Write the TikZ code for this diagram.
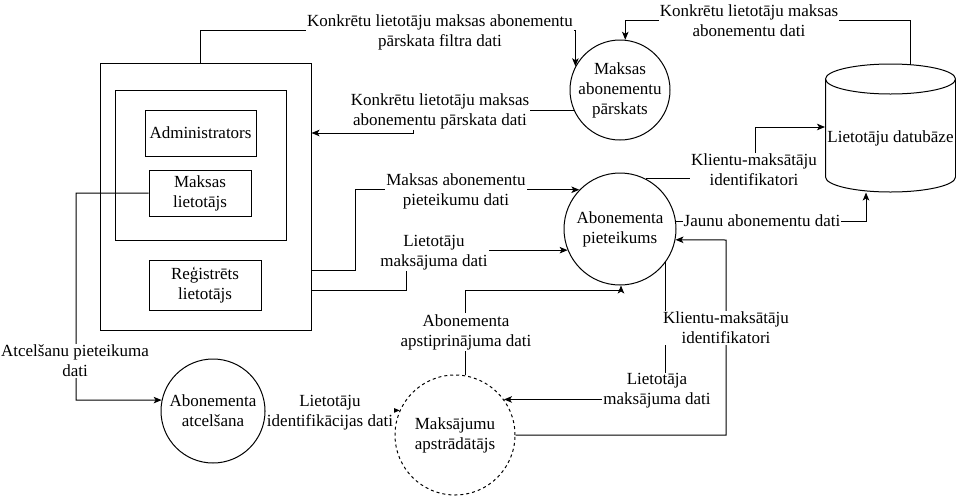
\documentclass[tikz,border=0pt]{standalone}
\usepackage{fontspec}
\setmainfont{Liberation Serif}
\usetikzlibrary{arrows.meta}
\begin{document}
\begin{tikzpicture}[x=1pt,y=-1pt,line width=1pt,
  every node/.style={font=\fontsize{17}{20}\selectfont},
  box/.style={draw,rectangle,inner sep=0pt,align=center},
  proc/.style={draw,circle,inner sep=0pt,align=center},
  lbl/.style={fill=white,inner sep=1pt,align=center},
  arr/.style={-{Stealth[length=8pt,width=6.5pt,inset=2pt]}}]
\useasboundingbox (0,0) rectangle (956,496);

% entities
\node[box,minimum width=211pt,minimum height=267pt] (outer) at (205.5,196.5) {};
\node[box,minimum width=171pt,minimum height=150pt] (inner) at (200.5,165) {};
\node[box,minimum width=111pt,minimum height=46pt] (adm) at (200.5,133) {Administrators};
\node[box,minimum width=102pt,minimum height=46pt] (ml) at (200,193) {Maksas\\lietotājs};
\node[box,minimum width=112pt,minimum height=50pt] (reg) at (205,285) {Reģistrēts\\lietotājs};

% processes
\node[proc,minimum size=100pt] (pars) at (620,90) {Maksas\\abonementu\\pārskats};
\node[proc,minimum size=112pt] (pie) at (620,229) {Abonementa\\pieteikums};
\node[proc,minimum size=104pt] (atc) at (213,411) {Abonementa\\atcelšana};
\node[proc,minimum size=120pt,dash pattern=on 3pt off 3pt] (mp) at (455,435) {Maksājumu\\apstrādātājs};

% data store
\node[rectangle,inner sep=0pt,minimum width=130pt,minimum height=128pt] (db) at (890.5,128) {};
\draw (890.5,79) ellipse [x radius=65pt,y radius=15pt];
\draw (825.5,79) -- (825.5,177) arc[start angle=180,end angle=360,x radius=65pt,y radius=15pt] -- (955.5,79);
\node (dbtext) at (890.5,138) {Lietotāju datubāze};

% flows
\draw[arr] (outer.north -| 200,0) |- (pars.152 |- 0,30) -- (pars.152);
\draw[arr] (db.north -| 910,0) |- (pars.84 |- 0,20) -- (pars.84);
\draw[arr] (pars.204) -| (413,133) -- (outer.east |- 0,133);
\draw[arr] (outer.east |- 0,270) -- (355,270) |- (pie.136);
\draw[arr] (outer.east |- 0,290) -- (406,290) |- (pie.202);
\draw[arr] (mp.80) |- (pie.271 |- 0,290) -- (pie.271);
\draw[arr] (pie.324) |- (mp.36);
\draw[arr] (mp.east) -| (726,240) -- (pie.349);
\draw[arr] (pie.63) -| (755,127) -- (db.west |- 0,127);
\draw[arr] (pie.8) -| (db.south -| 866,0);
\draw[arr] (atc.east) -- (mp.156);
\draw[arr] (ml.west) -| (76,400) -- (atc.168);

% labels
\node[lbl] (l1) at (440,32) {Konkrētu lietotāju maksas abonementu\\pārskata filtra dati};
\node[lbl] (l2) at (749,21) {Konkrētu lietotāju maksas\\abonementu dati};
\node[lbl] (l3) at (440,111) {Konkrētu lietotāju maksas\\abonementu pārskata dati};
\node[lbl] (l4) at (456,191) {Maksas abonementu\\pieteikumu dati};
\node[lbl] (l5) at (434,253) {Lietotāju\\maksājuma dati};
\node[lbl] (l6) at (466,332) {Abonementa\\apstiprinājuma dati};
\node[lbl] (l7) at (657,391) {Lietotāja\\maksājuma dati};
\node[lbl] (l8) at (726,328) {Klientu-maksātāju\\identifikatori};
\node[lbl] (l9) at (754,170) {Klientu-maksātāju\\identifikatori};
\node[lbl] (l10) at (762,221) {Jaunu abonementu dati};
\node[lbl] (l11) at (330,413) {Lietotāju\\identifikācijas dati};
\node[lbl] (l12) at (75,361) {Atcelšanu pieteikuma\\dati};
\end{tikzpicture}
\end{document}
